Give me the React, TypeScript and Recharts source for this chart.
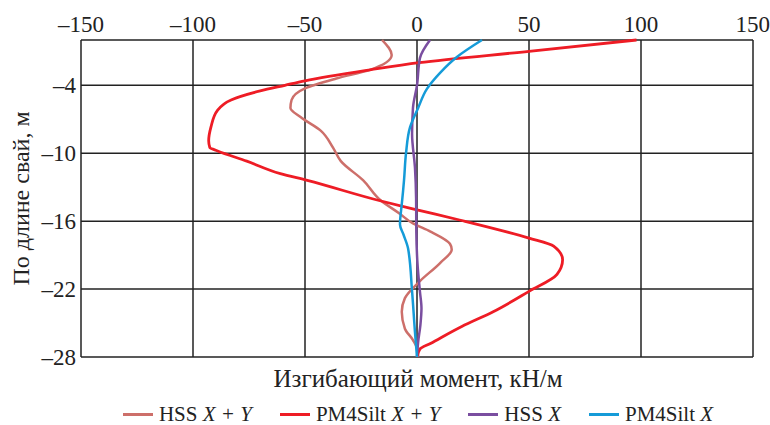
import { LineChart, Line, XAxis, YAxis, CartesianGrid, Legend, Label } from "recharts";

// depth along the pile, m (negative downwards) and bending moment, kN/m
const hssXYDepth = [0, -1.33, -2.64, -3.4, -4.27, -5.3, -6, -6.8, -8, -9.5, -10.7, -12.4, -14.2, -15.3, -16.2, -16.9, -18, -18.5, -19.7, -21.3, -22.8, -24, -25.5, -26.5, -27.6, -28];
const hssXYMoment = [-15.6, -11.3, -21, -36, -50, -56, -56.5, -52, -43, -37.5, -34, -24, -16, -8, -1.8, 5.8, 14.7, 15.5, 10.3, 1.3, -5.4, -6.8, -5.4, -1.8, 0.5, 0.5];

const pmXYDepth = [0, -1, -2, -2.64, -3.6, -4, -4.5, -5.3, -6.2, -7.7, -8.9, -9.5, -9.8, -10.7, -11.8, -12.4, -14.2, -15, -15.9, -17.5, -18.2, -19.4, -20.7, -22.2, -24, -25.3, -26.8, -27.3, -28];
const pmXYMoment = [98, 50, 1, -21, -50, -59, -70, -83, -89, -92, -93, -92.5, -89, -76, -61, -49, -16.5, 0, 19, 50, 61, 65, 62.5, 50, 34, 20, 6, 1.3, 0];

const hssXDepth = [0, -1.6, -4, -6, -8.3, -11.3, -14, -17, -20, -22.2, -23.7, -25.2, -26.7, -28];
const hssXMoment = [5.8, 1.3, 0, -1.8, -2.2, -0.9, -0.4, -0.3, 0.3, 1.3, 2, 1.5, 0.5, 0];

const pmXDepth = [0, -1.5, -2.9, -4.3, -6, -7.7, -10, -12.4, -13.3, -14.5, -16.3, -17.2, -18.4, -22.2, -25.8, -28];
const pmXMoment = [29, 17.8, 10.3, 4.5, 0.5, -3.1, -4.9, -5.8, -6.2, -6.8, -7.6, -6, -4, -2.2, -0.9, 0];

const momentTicks = [-150, -100, -50, 0, 50, 100, 150];
const depthTicks = [-28, -22, -16, -10, -4, 0];

const zip = (depth: number[], moment: number[]) =>
  depth.map((d, i) => ({ depth: d, moment: moment[i] }));

const series = [
  { name: "HSS", suffix: "X + Y", color: "#cd6f6a", width: 2.5, data: zip(hssXYDepth, hssXYMoment) },
  { name: "PM4Silt", suffix: "X + Y", color: "#ee1c25", width: 2.8, data: zip(pmXYDepth, pmXYMoment) },
  { name: "HSS", suffix: "X", color: "#7a4ea0", width: 2.5, data: zip(hssXDepth, hssXMoment) },
  { name: "PM4Silt", suffix: "X", color: "#159bd8", width: 2.5, data: zip(pmXDepth, pmXMoment) },
];

const FONT = "Liberation Serif, serif";
const fmt = (v: number) => (v < 0 ? "\u2013" + Math.abs(v) : String(v));

const LegendBlock = () => (
  <div style={{ fontFamily: FONT, color: "#222", textAlign: "center", paddingLeft: 66, boxSizing: "border-box", width: 770 }}>
    <div style={{ fontSize: 25, lineHeight: "26px" }}>Изгибающий момент, кН/м</div>
    <div style={{ display: "flex", justifyContent: "center", marginTop: 12, fontSize: 21, lineHeight: "20px" }}>
      {series.map((s, i) => (
        <span key={i} style={{ display: "inline-flex", alignItems: "center", marginRight: i < 3 ? 28 : 0 }}>
          <span style={{ display: "inline-block", width: 30, height: 3, background: s.color, marginRight: 6 }} />
          <span>
            {s.name} <i>{s.suffix}</i>
          </span>
        </span>
      ))}
    </div>
  </div>
);

export default function App() {
  return (
    <div style={{ position: "absolute", left: 0, top: 0, background: "#fff", fontFamily: FONT }}>
      <LineChart
        width={770}
        height={425}
        layout="vertical"
        margin={{ top: 10, right: 17, bottom: 10, left: 21 }}
        style={{ fontFamily: FONT }}
      >
        <CartesianGrid stroke="#222" strokeWidth={1.5} />
        <XAxis
          type="number"
          dataKey="moment"
          orientation="top"
          domain={[-150, 150]}
          ticks={momentTicks}
          tickFormatter={fmt}
          axisLine={false}
          tickLine={false}
          height={30}
          tick={{ fill: "#222", fontSize: 23, fontFamily: FONT }}
        />
        <YAxis
          type="number"
          dataKey="depth"
          domain={[-28, 0]}
          reversed
          ticks={depthTicks}
          tickFormatter={(v: number) => (v === 0 ? "" : fmt(v))}
          axisLine={false}
          tickLine={false}
          tickSize={3}
          tickMargin={2}
          width={60}
          tick={{ fill: "#222", fontSize: 23, fontFamily: FONT }}
        >
          <Label
            value="По длине свай, м"
            angle={-90}
            position="insideLeft"
            offset={-1}
            style={{ textAnchor: "middle", fill: "#222", fontSize: 24, fontFamily: FONT }}
          />
        </YAxis>
        {series.map((s, i) => (
          <Line
            key={i}
            data={s.data}
            dataKey="moment"
            type="monotone"
            stroke={s.color}
            strokeWidth={s.width}
            dot={false}
            activeDot={false}
            isAnimationActive={false}
          />
        ))}
        <Legend
          verticalAlign="bottom"
          content={() => <LegendBlock />}
          wrapperStyle={{ position: "absolute", left: 0, width: 770, top: 366, height: 58 }}
        />
      </LineChart>
    </div>
  );
}
